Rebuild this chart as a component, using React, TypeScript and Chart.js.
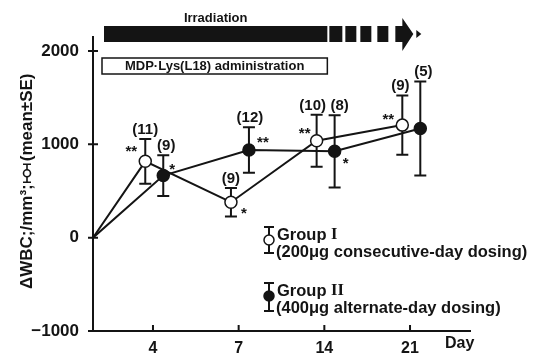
import { useEffect, useRef } from "react";
import { Chart, registerables } from "chart.js";

Chart.register(...registerables);

// ---- data ----
const days = [0, 4, 7, 14, 21];
const daySlots = [0, 0.7, 1.7, 2.7, 3.7]; // day 0 at origin, later days evenly spaced on the axis
const dayTickLabels = ["4", "7", "14", "21"];
const yTickValues = [-1000, 0, 1000, 2000];

const groupIMean = [0, 818, 380, 1039, 1206];
const groupISE = [0, 240, 153, 278, 318];
const groupIIMean = [0, 665, 939, 925, 1170];
const groupIISE = [0, 219, 244, 387, 504];

const groupIN = ["", "(11)", "(9)", "(10)", "(9)"];
const groupIIN = ["", "(9)", "(12)", "(8)", "(5)"];
const groupISig = ["", "**", "*", "**", "**"];
const groupIISig = ["", "*", "**", "*", ""];

// ---- layout / style (not data) ----
const INK = "#141414";
const SANS = "'Liberation Sans', Arial, sans-serif";
const SERIF = "'Liberation Serif', 'Times New Roman', serif";
const dodgeI = -0.09;
const dodgeII = 0.12;
const nNudgeI = [0, 0, 0, -4, -2];
const nNudgeII = [0, 3, 1, 5, 3];
const sigOffsetI: [number, number][] = [[0, 0], [-14, -14], [13, 7], [-12, -12], [-14, -10]];
const sigOffsetII: [number, number][] = [[0, 0], [9, -11], [14, -12], [11, 8], [0, 0]];

function xFor(i: number, dodge: number) {
  return daySlots[i] + (days[i] === 0 ? 0 : dodge);
}

const annotPlugin = {
  id: "annot",
  beforeDatasetsDraw(chart: any) {
    const { ctx } = chart;
    const xs = chart.scales.x;
    const ys = chart.scales.y;
    ctx.save();
    ctx.strokeStyle = INK;
    ctx.lineWidth = 2;
    const bar = (x: number, m: number, s: number) => {
      if (s <= 0) return;
      const t = ys.getPixelForValue(m + s);
      const b = ys.getPixelForValue(m - s);
      ctx.beginPath();
      ctx.moveTo(x, t);
      ctx.lineTo(x, b);
      ctx.moveTo(x - 6, t);
      ctx.lineTo(x + 6, t);
      ctx.moveTo(x - 6, b);
      ctx.lineTo(x + 6, b);
      ctx.stroke();
    };
    days.forEach((_, i) => {
      bar(xs.getPixelForValue(xFor(i, dodgeI)), groupIMean[i], groupISE[i]);
      bar(xs.getPixelForValue(xFor(i, dodgeII)), groupIIMean[i], groupIISE[i]);
    });
    ctx.restore();
  },
  afterDraw(chart: any) {
    const { ctx, chartArea } = chart;
    const xs = chart.scales.x;
    const ys = chart.scales.y;
    ctx.save();
    ctx.fillStyle = INK;
    ctx.strokeStyle = INK;

    // axis tick marks
    ctx.lineWidth = 2;
    ctx.beginPath();
    yTickValues.forEach((v) => {
      const y = ys.getPixelForValue(v);
      ctx.moveTo(chartArea.left - 5, y);
      ctx.lineTo(chartArea.left + 5, y);
    });
    daySlots.slice(1).forEach((s) => {
      const x = xs.getPixelForValue(s);
      ctx.moveTo(x, chartArea.bottom);
      ctx.lineTo(x, chartArea.bottom - 6);
    });
    ctx.stroke();

    // "Day"
    ctx.font = `bold 16px ${SANS}`;
    ctx.textAlign = "left";
    ctx.textBaseline = "middle";
    ctx.fillText("Day", chartArea.right - 25, chartArea.bottom + 13);

    // n labels and significance marks
    ctx.textAlign = "center";
    ctx.textBaseline = "alphabetic";
    const label = (i: number, dodge: number, m: number[], s: number[], n: string[], nudge: number[], sig: string[], so: [number, number][]) => {
      const x = xs.getPixelForValue(xFor(i, dodge));
      const yc = ys.getPixelForValue(m[i]);
      const top = ys.getPixelForValue(m[i] + s[i]);
      if (n[i]) {
        ctx.font = `bold 15px ${SANS}`;
        ctx.fillText(n[i], x + nudge[i], top - 5);
      }
      if (sig[i]) {
        ctx.font = `bold 15px ${SANS}`;
        ctx.fillText(sig[i], x + so[i][0], yc + so[i][1] + 9);
      }
    };
    days.forEach((_, i) => {
      label(i, dodgeI, groupIMean, groupISE, groupIN, nNudgeI, groupISig, sigOffsetI);
      label(i, dodgeII, groupIIMean, groupIISE, groupIIN, nNudgeII, groupIISig, sigOffsetII);
    });

    // irradiation arrow
    const x0 = chartArea.left + 11;
    const xAdmEnd = xs.getPixelForValue(daySlots[3]) + 3;
    const yT = 26, yB = 42, yM = 34;
    ctx.fillRect(x0, yT, xAdmEnd - x0, yB - yT);
    const blocks: [number, number][] = [[2, 15], [18, 29], [33, 44], [50, 61]];
    blocks.forEach(([a, b]) => ctx.fillRect(xAdmEnd + a, yT, b - a, yB - yT));
    const ah = xAdmEnd + 68;
    ctx.beginPath();
    ctx.moveTo(ah, yT);
    ctx.lineTo(ah + 7, yT);
    ctx.lineTo(ah + 7, 18);
    ctx.lineTo(ah + 18, yM);
    ctx.lineTo(ah + 7, 51);
    ctx.lineTo(ah + 7, yB);
    ctx.lineTo(ah, yB);
    ctx.closePath();
    ctx.fill();
    ctx.beginPath();
    ctx.moveTo(ah + 21, yM - 4);
    ctx.lineTo(ah + 26, yM);
    ctx.lineTo(ah + 21, yM + 4);
    ctx.closePath();
    ctx.fill();
    ctx.font = `bold 13px ${SANS}`;
    ctx.textAlign = "center";
    ctx.textBaseline = "middle";
    ctx.fillText("Irradiation", (x0 + xAdmEnd) / 2, 18);

    // administration box
    ctx.lineWidth = 1.5;
    ctx.strokeRect(chartArea.left + 9, 58, xAdmEnd - chartArea.left - 9, 16);
    ctx.font = `bold 13px ${SANS}`;
    ctx.fillText("MDP·Lys(L18) administration", (chartArea.left + 9 + xAdmEnd) / 2, 66.5);

    // legend
    const sym = (x: number, t: number, b: number, c: number, filled: boolean) => {
      ctx.lineWidth = 2;
      ctx.beginPath();
      ctx.moveTo(x, t);
      ctx.lineTo(x, b);
      ctx.moveTo(x - 5, t);
      ctx.lineTo(x + 5, t);
      ctx.moveTo(x - 5, b);
      ctx.lineTo(x + 5, b);
      ctx.stroke();
      ctx.beginPath();
      ctx.arc(x, c, 5, 0, Math.PI * 2);
      ctx.fillStyle = filled ? INK : "#fff";
      ctx.fill();
      ctx.lineWidth = 1.5;
      ctx.stroke();
      ctx.fillStyle = INK;
    };
    const LF = 16.5;
    const groupText = (x: number, y: number, num: string) => {
      ctx.textAlign = "left";
      ctx.textBaseline = "middle";
      ctx.font = `bold ${LF}px ${SANS}`;
      ctx.fillText("Group ", x, y);
      const w = ctx.measureText("Group ").width;
      ctx.font = `bold ${LF}px ${SERIF}`;
      ctx.fillText(num, x + w, y);
    };
    sym(269, 227, 253, 240, false);
    groupText(277, 235, "I");
    ctx.font = `bold ${LF}px ${SANS}`;
    ctx.fillText("(200μg consecutive-day dosing)", 276, 252);
    sym(269, 283, 311, 296, true);
    groupText(277, 291, "II");
    ctx.font = `bold ${LF}px ${SANS}`;
    ctx.fillText("(400μg alternate-day dosing)", 276, 308);

    // y-axis title (rotated) with embedded symbol
    ctx.save();
    ctx.translate(27, 289);
    ctx.rotate(-Math.PI / 2);
    ctx.font = `bold 17px ${SANS}`;
    ctx.textAlign = "left";
    ctx.textBaseline = "middle";
    const partA = "ΔWBC;/mm³;";
    ctx.fillText(partA, 0, 0);
    const wA = ctx.measureText(partA).width;
    const sx = wA + 11;
    ctx.lineWidth = 1.6;
    ctx.beginPath();
    ctx.moveTo(sx - 9, 0);
    ctx.lineTo(sx + 9, 0);
    ctx.moveTo(sx - 9, -4);
    ctx.lineTo(sx - 9, 4);
    ctx.moveTo(sx + 9, -4);
    ctx.lineTo(sx + 9, 4);
    ctx.stroke();
    ctx.beginPath();
    ctx.arc(sx, 0, 3.5, 0, Math.PI * 2);
    ctx.fillStyle = "#fff";
    ctx.fill();
    ctx.stroke();
    ctx.fillStyle = INK;
    ctx.fillText("(mean±SE)", wA + 23, 0);
    ctx.restore();

    ctx.restore();
  },
};

export default function App() {
  const ref = useRef<HTMLCanvasElement | null>(null);
  useEffect(() => {
    document.body.style.margin = "0";
    const canvas = ref.current;
    if (!canvas) return;
    const pts = (m: number[], dodge: number) => days.map((_, i) => ({ x: xFor(i, dodge), y: m[i] }));
    const chart = new Chart(canvas, {
      type: "line",
      data: {
        datasets: [
          {
            label: "Group II",
            data: pts(groupIIMean, dodgeII),
            borderColor: INK,
            borderWidth: 2,
            pointRadius: days.map((d) => (d === 0 ? 0 : 6)),
            pointBackgroundColor: INK,
            pointBorderColor: INK,
            pointBorderWidth: 1.5,
            tension: 0,
          },
          {
            label: "Group I",
            data: pts(groupIMean, dodgeI),
            borderColor: INK,
            borderWidth: 2,
            pointRadius: days.map((d) => (d === 0 ? 0 : 6)),
            pointBackgroundColor: "#fff",
            pointBorderColor: INK,
            pointBorderWidth: 1.5,
            tension: 0,
          },
        ],
      },
      options: {
        animation: false,
        responsive: false,
        layout: { padding: { top: 37, right: 64, left: 0, bottom: 0 } },
        plugins: { legend: { display: false }, tooltip: { enabled: false } },
        scales: {
          x: {
            type: "linear",
            min: 0,
            max: 4.4,
            grid: { display: false },
            border: { display: true, color: INK, width: 2 },
            afterBuildTicks: (s: any) => {
              s.ticks = daySlots.slice(1).map((v) => ({ value: v }));
            },
            afterFit: (s: any) => {
              s.height = 22;
            },
            ticks: {
              autoSkip: false,
              maxRotation: 0,
              padding: 0,
              color: INK,
              font: { family: SANS, size: 16, weight: "bold" },
              callback: (_v: any, i: number) => dayTickLabels[i],
            },
          },
          y: {
            type: "linear",
            min: -1000,
            max: 2150,
            grid: { display: false },
            border: { display: true, color: INK, width: 2 },
            afterBuildTicks: (s: any) => {
              s.ticks = yTickValues.map((v) => ({ value: v }));
            },
            afterFit: (s: any) => {
              s.width = 93;
            },
            ticks: {
              padding: 6,
              color: INK,
              font: { family: SANS, size: 17, weight: "bold" },
              callback: (v: any) => (Number(v) < 0 ? "\u2212" + Math.abs(Number(v)) : String(v)),
            },
          },
        },
      },
      plugins: [annotPlugin],
    } as any);
    return () => chart.destroy();
  }, []);
  return (
    <div style={{ width: 534, height: 353 }}>
      <canvas ref={ref} width={534} height={353} />
    </div>
  );
}
